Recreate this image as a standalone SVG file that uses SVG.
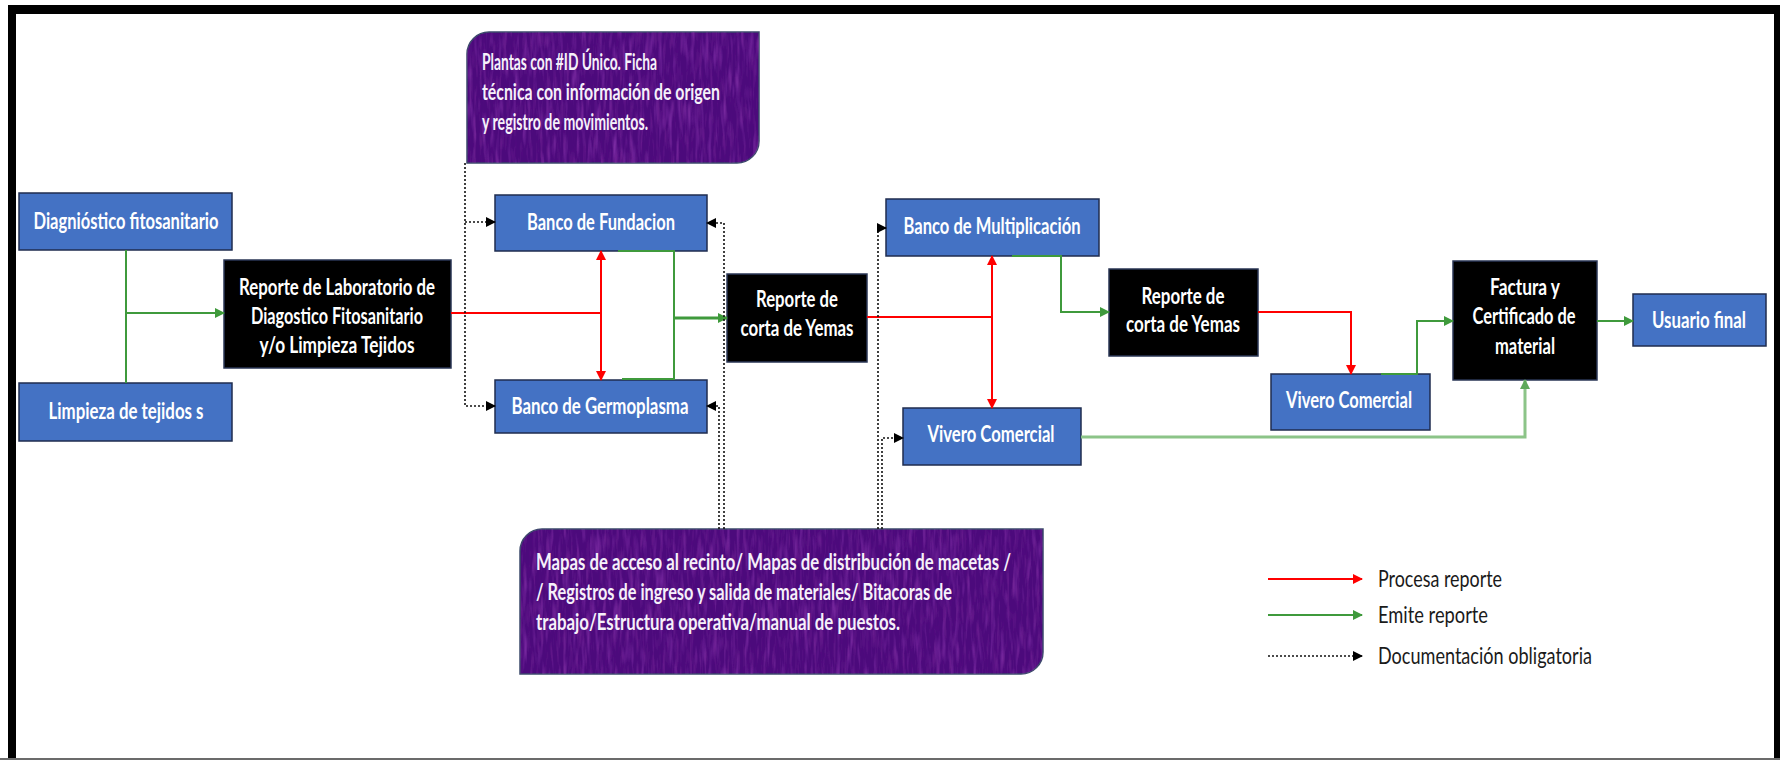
<svg xmlns="http://www.w3.org/2000/svg" width="1780" height="760" viewBox="0 0 1780 760">
  <style>
    .blue { fill: #4472c4; stroke: #1f2d4f; stroke-width: 1.5; }
    .dark { fill: #000; stroke: #2a3655; stroke-width: 1.5; }
    .note { fill: #4c0a7c; stroke: #3b4a6b; stroke-width: 1.5; }
    .lbl { font-family: Lato, "Open Sans", sans-serif; font-size: 22px; font-weight: 700; fill: #ffffff; text-anchor: middle; }
    .ntxt { font-family: Lato, "Open Sans", sans-serif; font-size: 23px; font-weight: 700; fill: #f6f0fa; }
    .leg { font-family: Lato, "Open Sans", sans-serif; font-size: 23px; fill: #1a1a1a; }
    .red { fill: none; stroke: #ff0000; stroke-width: 2; }
    .green { fill: none; stroke: #3f9a3c; stroke-width: 2; }
    .green-wide { fill: none; stroke: #3f9a3c; stroke-width: 3; }
    .green-light { fill: none; stroke: #8cc488; stroke-width: 3; }
    .doc { fill: none; stroke: #111; stroke-width: 1.6; stroke-dasharray: 2 2; }
  </style>
  <defs>
    <marker id="ah-red" markerUnits="userSpaceOnUse" viewBox="0 0 10 10" refX="9" refY="5" markerWidth="11" markerHeight="10" orient="auto">
      <path d="M0,0 L10,5 L0,10 z" fill="#ff0000"/>
    </marker>
    <marker id="ah-green" markerUnits="userSpaceOnUse" viewBox="0 0 10 10" refX="9" refY="5" markerWidth="11" markerHeight="10" orient="auto">
      <path d="M0,0 L10,5 L0,10 z" fill="#3f9a3c"/>
    </marker>
    <marker id="ah-light" markerUnits="userSpaceOnUse" viewBox="0 0 10 10" refX="9" refY="5" markerWidth="11" markerHeight="10" orient="auto">
      <path d="M0,0 L10,5 L0,10 z" fill="#5ea95a"/>
    </marker>
    <marker id="ah-doc" markerUnits="userSpaceOnUse" viewBox="0 0 10 10" refX="9" refY="5" markerWidth="10" markerHeight="10" orient="auto">
      <path d="M0,0 L10,5 L0,10 z" fill="#000"/>
    </marker>
    <!-- streaky violet grain for the note boxes -->
    <filter id="grain" x="0" y="0" width="100%" height="100%">
      <feTurbulence type="fractalNoise" baseFrequency="0.22 0.03" numOctaves="2" seed="7" result="n1"/>
      <feColorMatrix in="n1" type="matrix" values="0 0 0 0 0.40  0 0 0 0 0.07  0 0 0 0 0.58  1.2 0 0 0 -0.62" result="light"/>
      <feTurbulence type="fractalNoise" baseFrequency="0.3 0.04" numOctaves="2" seed="19" result="n2"/>
      <feColorMatrix in="n2" type="matrix" values="0 0 0 0 0.20  0 0 0 0 0.02  0 0 0 0 0.32  1.4 0 0 0 -0.66" result="shade"/>
      <feMerge result="m"><feMergeNode in="light"/><feMergeNode in="shade"/></feMerge>
      <feComposite in="m" in2="SourceAlpha" operator="in"/>
    </filter>
  </defs>

  <!-- page and frame -->
  <rect x="0" y="0" width="1780" height="760" fill="#ffffff"/>
  <rect x="8" y="5" width="1772" height="9" fill="#000"/>
  <rect x="8" y="5" width="8" height="755" fill="#000"/>
  <rect x="1774" y="5" width="6" height="755" fill="#000"/>
  <rect x="0" y="758" width="1780" height="2" fill="#6b6b6b"/>

  <!-- note: plant identification -->
  <g id="note-plantas">
    <path class="note" d="M489,32 H759 V141 A22,22 0 0 1 737,163 H467 V54 A22,22 0 0 1 489,32 Z"/>
    <path d="M489,32 H759 V141 A22,22 0 0 1 737,163 H467 V54 A22,22 0 0 1 489,32 Z" fill="#000" filter="url(#grain)"/>
    <text class="ntxt" x="482" y="70" textLength="175" lengthAdjust="spacingAndGlyphs">Plantas con #ID Único. Ficha</text>
    <text class="ntxt" x="482" y="100" textLength="238" lengthAdjust="spacingAndGlyphs">técnica con información de origen</text>
    <text class="ntxt" x="482" y="130" textLength="166" lengthAdjust="spacingAndGlyphs">y registro de movimientos.</text>
  </g>

  <!-- note: site documentation -->
  <g id="note-mapas">
    <path class="note" d="M542,529 H1043 V652 A22,22 0 0 1 1021,674 H520 V551 A22,22 0 0 1 542,529 Z"/>
    <path d="M542,529 H1043 V652 A22,22 0 0 1 1021,674 H520 V551 A22,22 0 0 1 542,529 Z" fill="#000" filter="url(#grain)"/>
    <text class="ntxt" x="536" y="570" textLength="475" lengthAdjust="spacingAndGlyphs">Mapas de acceso al recinto/ Mapas de distribución de macetas /</text>
    <text class="ntxt" x="536" y="600" textLength="416" lengthAdjust="spacingAndGlyphs">/ Registros de ingreso y salida de materiales/ Bitacoras de</text>
    <text class="ntxt" x="536" y="630" textLength="364" lengthAdjust="spacingAndGlyphs">trabajo/Estructura operativa/manual de puestos.</text>
  </g>

  <!-- process nodes -->
  <g id="n-diagnostico">
    <rect class="blue" x="19" y="193" width="213" height="57"/>
    <text class="lbl" x="126" y="229" textLength="185" lengthAdjust="spacingAndGlyphs">Diagnióstico fitosanitario</text>
  </g>
  <g id="n-limpieza">
    <rect class="blue" x="19" y="383" width="213" height="58"/>
    <text class="lbl" x="126" y="419" textLength="155" lengthAdjust="spacingAndGlyphs">Limpieza de tejidos s</text>
  </g>
  <g id="n-reporte-lab">
    <rect class="dark" x="224" y="260" width="227" height="108"/>
    <text class="lbl" x="337" y="295" textLength="196" lengthAdjust="spacingAndGlyphs">Reporte de Laboratorio de</text>
    <text class="lbl" x="337" y="324" textLength="172" lengthAdjust="spacingAndGlyphs">Diagostico Fitosanitario</text>
    <text class="lbl" x="337" y="353" textLength="155" lengthAdjust="spacingAndGlyphs">y/o Limpieza Tejidos</text>
  </g>
  <g id="n-fundacion">
    <rect class="blue" x="495" y="195" width="212" height="56"/>
    <text class="lbl" x="601" y="230" textLength="148" lengthAdjust="spacingAndGlyphs">Banco de Fundacion</text>
  </g>
  <g id="n-germoplasma">
    <rect class="blue" x="495" y="380" width="212" height="53"/>
    <text class="lbl" x="600" y="414" textLength="177" lengthAdjust="spacingAndGlyphs">Banco de Germoplasma</text>
  </g>
  <g id="n-corta-1">
    <rect class="dark" x="727" y="274" width="140" height="88"/>
    <text class="lbl" x="797" y="307" textLength="82" lengthAdjust="spacingAndGlyphs">Reporte de</text>
    <text class="lbl" x="797" y="336" textLength="113" lengthAdjust="spacingAndGlyphs">corta de Yemas</text>
  </g>
  <g id="n-multiplicacion">
    <rect class="blue" x="886" y="199" width="213" height="57"/>
    <text class="lbl" x="992" y="234" textLength="177" lengthAdjust="spacingAndGlyphs">Banco de Multiplicación</text>
  </g>
  <g id="n-vivero-1">
    <rect class="blue" x="903" y="408" width="178" height="57"/>
    <text class="lbl" x="991" y="442" textLength="127" lengthAdjust="spacingAndGlyphs">Vivero Comercial</text>
  </g>
  <g id="n-corta-2">
    <rect class="dark" x="1109" y="269" width="149" height="87"/>
    <text class="lbl" x="1183" y="304" textLength="83" lengthAdjust="spacingAndGlyphs">Reporte de</text>
    <text class="lbl" x="1183" y="332" textLength="114" lengthAdjust="spacingAndGlyphs">corta de Yemas</text>
  </g>
  <g id="n-vivero-2">
    <rect class="blue" x="1271" y="374" width="159" height="56"/>
    <text class="lbl" x="1349" y="408" textLength="126" lengthAdjust="spacingAndGlyphs">Vivero Comercial</text>
  </g>
  <g id="n-factura">
    <rect class="dark" x="1453" y="261" width="144" height="119"/>
    <text class="lbl" x="1525" y="295" textLength="70" lengthAdjust="spacingAndGlyphs">Factura y</text>
    <text class="lbl" x="1524" y="324" textLength="103" lengthAdjust="spacingAndGlyphs">Certificado de</text>
    <text class="lbl" x="1525" y="354" textLength="60" lengthAdjust="spacingAndGlyphs">material</text>
  </g>
  <g id="n-usuario">
    <rect class="blue" x="1633" y="294" width="133" height="52"/>
    <text class="lbl" x="1699" y="328" textLength="94" lengthAdjust="spacingAndGlyphs">Usuario final</text>
  </g>

  <!-- connectors -->
  <g id="connectors">
    <!-- inputs into the lab report -->
    <path class="green" d="M126,250 V383"/>
    <path class="green" d="M126,313 H224" marker-end="url(#ah-green)"/>
    <!-- lab report to the two banks -->
    <path class="red" d="M451,313 H601"/>
    <path class="red" d="M601,313 V251" marker-end="url(#ah-red)"/>
    <path class="red" d="M601,313 V380" marker-end="url(#ah-red)"/>
    <!-- banks emit the cutting report -->
    <path class="green" d="M618,251 H674 V379 H622"/>
    <path class="green-wide" d="M674,318 H727" marker-end="url(#ah-green)"/>
    <!-- cutting report to multiplication and nursery -->
    <path class="red" d="M867,317 H992"/>
    <path class="red" d="M992,317 V256" marker-end="url(#ah-red)"/>
    <path class="red" d="M992,317 V408" marker-end="url(#ah-red)"/>
    <path class="green" d="M1012,256 H1061 V312 H1109" marker-end="url(#ah-green)"/>
    <path class="red" d="M1258,312 H1351 V374" marker-end="url(#ah-red)"/>
    <path class="green" d="M1381,374 H1417 V321 H1453" marker-end="url(#ah-green)"/>
    <path class="green" d="M1597,321 H1633" marker-end="url(#ah-green)"/>
    <path class="green-light" d="M1081,437 H1525 V380" marker-end="url(#ah-light)"/>
    <!-- mandatory documentation -->
    <path class="doc" d="M465,163 V406 H495" marker-end="url(#ah-doc)"/>
    <path class="doc" d="M465,222 H495" marker-end="url(#ah-doc)"/>
    <path class="doc" d="M724,529 V223 H707" marker-end="url(#ah-doc)"/>
    <path class="doc" d="M719,529 V406 H707" marker-end="url(#ah-doc)"/>
    <path class="doc" d="M878,529 V228 H886" marker-end="url(#ah-doc)"/>
    <path class="doc" d="M882,529 V438 H903" marker-end="url(#ah-doc)"/>
  </g>

  <!-- legend -->
  <g id="legend">
    <path class="red" d="M1268,579 H1362" marker-end="url(#ah-red)"/>
    <text class="leg" x="1378" y="587" textLength="124" lengthAdjust="spacingAndGlyphs">Procesa reporte</text>
    <path class="green" d="M1268,615 H1362" marker-end="url(#ah-green)"/>
    <text class="leg" x="1378" y="623" textLength="110" lengthAdjust="spacingAndGlyphs">Emite reporte</text>
    <path class="doc" d="M1268,656 H1362" marker-end="url(#ah-doc)"/>
    <text class="leg" x="1378" y="664" textLength="214" lengthAdjust="spacingAndGlyphs">Documentación obligatoria</text>
  </g>
</svg>
